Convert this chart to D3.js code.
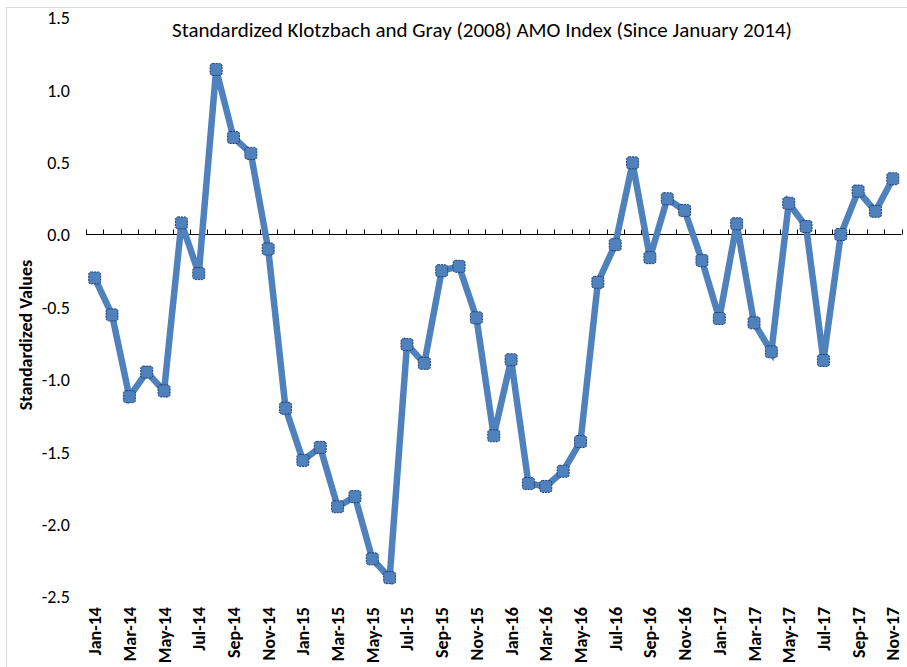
<!DOCTYPE html>
<html>
<head>
<meta charset="utf-8">
<script src="https://cdn.jsdelivr.net/npm/d3@7"></script>
<style>
  body { margin: 0; background: #fff; }
  svg text { font-family: Carlito, Calibri, Lato, "Open Sans", sans-serif; fill: #000; }
</style>
</head>
<body>
<svg id="chart" width="907" height="667"></svg>
<script>
var months = ["Jan-14","Feb-14","Mar-14","Apr-14","May-14","Jun-14","Jul-14","Aug-14","Sep-14","Oct-14","Nov-14","Dec-14",
              "Jan-15","Feb-15","Mar-15","Apr-15","May-15","Jun-15","Jul-15","Aug-15","Sep-15","Oct-15","Nov-15","Dec-15",
              "Jan-16","Feb-16","Mar-16","Apr-16","May-16","Jun-16","Jul-16","Aug-16","Sep-16","Oct-16","Nov-16","Dec-16",
              "Jan-17","Feb-17","Mar-17","Apr-17","May-17","Jun-17","Jul-17","Aug-17","Sep-17","Oct-17","Nov-17"];

var amo = [-0.30, -0.555, -1.12, -0.95, -1.08, 0.08, -0.27, 1.14, 0.67, 0.56, -0.10, -1.20,
           -1.56, -1.47, -1.88, -1.81, -2.24, -2.37, -0.76, -0.89, -0.25, -0.22, -0.575, -1.39,
           -0.865, -1.72, -1.74, -1.635, -1.43, -0.33, -0.07, 0.495, -0.16, 0.247, 0.166, -0.18,
           -0.58, 0.074, -0.61, -0.81, 0.216, 0.055, -0.87, 0.0, 0.30, 0.16, 0.385];

var yTicks = [1.5, 1.0, 0.5, 0.0, -0.5, -1.0, -1.5, -2.0, -2.5];
var xLabels = months.filter(function(d, i) { return i % 2 === 0; });

var data = months.map(function(m, i) { return {month: m, value: amo[i]}; });

var svg = d3.select("#chart");
var width = +svg.attr("width");
var height = +svg.attr("height");
var left = 86, right = 901.5;

// chart border
svg.append("rect")
    .attr("x", 6.5).attr("y", 7.5)
    .attr("width", width + 10).attr("height", height + 10)
    .attr("fill", "none")
    .attr("stroke", "#d9d9d9");

var x = d3.scaleBand().domain(months).range([left, right]);
var y = d3.scaleLinear().domain([-2.5, 1.5]).range([596.5, 17.3]);

svg.append("text")
    .attr("x", 482).attr("y", 37)
    .attr("text-anchor", "middle")
    .style("font-size", "21px")
    .text("Standardized Klotzbach and Gray (2008) AMO Index (Since January 2014)");

// y axis labels only, no line
var yAxis = d3.axisLeft(y).tickValues(yTicks).tickSize(0).tickPadding(0);
var gy = svg.append("g").attr("transform", "translate(70,0)").call(yAxis);
gy.select(".domain").remove();
gy.selectAll("text")
    .style("font-size", "18px")
    .attr("dy", "0.35em")
    .text(function(d) { return d3.format(".1f")(d).replace("−", "-"); });

svg.append("text")
    .attr("transform", "translate(32,335) rotate(-90)")
    .attr("text-anchor", "middle")
    .style("font-size", "18px")
    .style("font-weight", "bold")
    .text("Standardized Values");

// zero line with tick marks at category edges
var gz = svg.append("g");
gz.append("line")
    .attr("x1", left).attr("x2", right)
    .attr("y1", y(0)).attr("y2", y(0))
    .attr("stroke", "#000").attr("stroke-width", 1.2);
var edges = months.map(function(m) { return x(m); }).concat([right]);
gz.selectAll(".tk")
    .data(edges)
    .enter().append("line")
    .attr("class", "tk")
    .attr("x1", d => Math.round(d) + 0.5).attr("x2", d => Math.round(d) + 0.5)
    .attr("y1", y(0)).attr("y2", y(0) - 5)
    .attr("stroke", "#000");

// month labels
svg.selectAll(".mlab")
    .data(xLabels)
    .enter().append("text")
    .attr("class", "mlab")
    .attr("transform", d => "translate(" + (x(d) + x.bandwidth() / 2 + 6.5) + ",607) rotate(-90)")
    .attr("text-anchor", "end")
    .style("font-size", "18px")
    .style("font-weight", "bold")
    .text(d => d);

var line = d3.line()
    .x(d => x(d.month) + x.bandwidth() / 2)
    .y(d => y(d.value));

svg.append("path")
    .datum(data)
    .attr("d", line)
    .attr("fill", "none")
    .attr("stroke", "#4f81bd")
    .attr("stroke-width", 6.5)
    .attr("stroke-linejoin", "miter");

svg.selectAll(".pt")
    .data(data)
    .enter().append("rect")
    .attr("class", "pt")
    .attr("x", d => x(d.month) + x.bandwidth() / 2 - 6)
    .attr("y", d => y(d.value) - 6)
    .attr("width", 12).attr("height", 12)
    .attr("rx", 2.5)
    .attr("fill", "#4f81bd")
    .attr("stroke", "#1f3d73")
    .attr("stroke-width", 1)
    .attr("stroke-dasharray", "2,1");
</script>
</body>
</html>
